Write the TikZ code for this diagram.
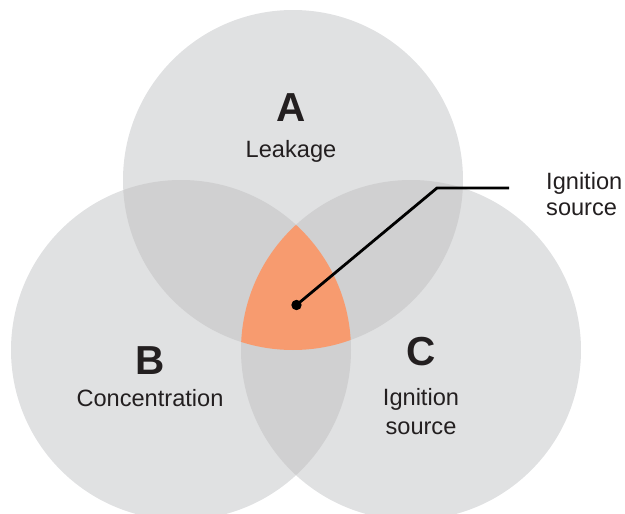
\documentclass[tikz,border=0pt]{standalone}
\usepackage{fontspec}
\setmainfont{Liberation Sans}
\definecolor{disc}{HTML}{E0E1E2}
\definecolor{lens}{HTML}{D0D0D1}
\definecolor{core}{HTML}{F79B6F}
\definecolor{ink}{HTML}{231F20}
\begin{document}
\begin{tikzpicture}[x=1pt,y=-1pt,
  letter/.style={font=\fontsize{40.5}{40.5}\selectfont\bfseries, text=ink, inner sep=0pt, anchor=base},
  caption/.style={font=\fontsize{23.6}{29}\selectfont, text=ink, inner sep=0pt, align=center},
  leader/.style={draw=black, line width=2.8pt, line join=miter}]
\useasboundingbox (0,0) rectangle (625,514);
\clip (0,0) rectangle (625,514);

% circle centres
\coordinate (cA) at (293,180);
\coordinate (cB) at (181,350);
\coordinate (cC) at (411,350);

% the three sets
\fill[disc] (cA) circle (170pt) (cB) circle (170pt) (cC) circle (170pt);

% pairwise overlaps
\begin{scope}
  \clip (cA) circle (170pt);
  \fill[lens] (cB) circle (170pt) (cC) circle (170pt);
\end{scope}
\begin{scope}
  \clip (cB) circle (170pt);
  \fill[lens] (cC) circle (170pt);
\end{scope}

% triple overlap
\begin{scope}
  \clip (cA) circle (170pt);
  \clip (cB) circle (170pt);
  \fill[core] (cC) circle (170pt);
\end{scope}

% set labels
\node[letter] (la) at (291,121) {A};
\node[caption, anchor=base] (ta) at (291,157) {Leakage};
\node[letter] (lb) at (150,374) {B};
\node[caption, anchor=base] (tb) at (150,406) {Concentration};
\node[letter] (lc) at (421,365) {C};
\node[caption] (tc) at (421,411.5) {Ignition\\source};

% callout
\coordinate (dot) at (296.5,305);
\coordinate (bend) at (437,188);
\coordinate (tip) at (509,188);
\fill[black] (dot) circle (5.2pt);
\draw[leader] (dot) -- (bend) -- (tip);
\node[caption, font=\fontsize{23.6}{26}\selectfont, align=left, anchor=west] (note) at (546,194) {Ignition\\source};
\end{tikzpicture}
\end{document}
